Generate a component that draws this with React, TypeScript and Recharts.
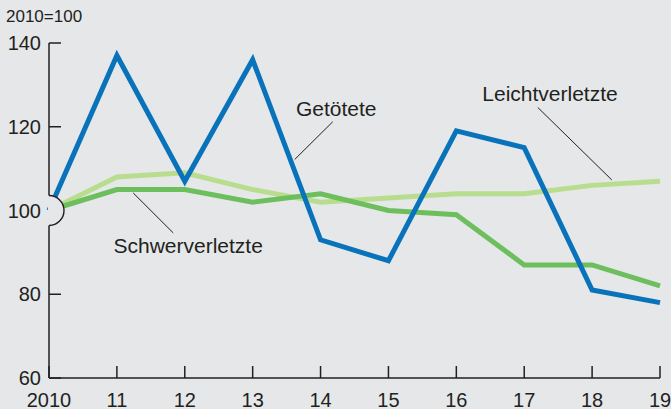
import * as React from "react";
import { LineChart, Line, XAxis, YAxis, ReferenceDot, ReferenceLine } from "recharts";

const years = [2010, 2011, 2012, 2013, 2014, 2015, 2016, 2017, 2018, 2019];
const getoetete = [100, 137, 107, 136, 93, 88, 119, 115, 81, 78];
const schwerverletzte = [100, 105, 105, 102, 104, 100, 99, 87, 87, 82];
const leichtverletzte = [100, 108, 109, 105, 102, 103, 104, 104, 106, 107];
const yTicks = [60, 80, 100, 120, 140];

// annotation anchors in data units: [x, y]
const labelGetoetete = { text: "Getötete", at: [2014.23, 122.6], from: [2014.18, 121.2], to: [2013.62, 112.2] };
const labelLeicht = { text: "Leichtverletzte", at: [2017.38, 126.2], from: [2017.2, 124.6], to: [2018.29, 107.3] };
const labelSchwer = { text: "Schwerverletzte", at: [2012.05, 89.9], from: [2011.24, 104.2], to: [2011.83, 94.65] };
const annotations = [labelGetoetete, labelLeicht, labelSchwer];

const BG = "#e5e7e9";
const INK = "#231f20";
const FONT = "'Liberation Sans', Arial, sans-serif";

const chartData = years.map((year, i) => ({
  year,
  getoetete: getoetete[i],
  schwer: schwerverletzte[i],
  leicht: leichtverletzte[i],
}));

// base marker (2010=100), sits on top of the series
const BaseMarker = (props: any) => {
  const { cx, cy } = props;
  const r = 15;
  return (
    <g>
      <path d={`M ${cx - 1} ${cy - r} L ${cx} ${cy - r} A ${r} ${r} 0 0 1 ${cx} ${cy + r} L ${cx - 1} ${cy + r} Z`} fill={BG} stroke="none" />
      <path d={`M ${cx} ${cy - r} A ${r} ${r} 0 0 1 ${cx} ${cy + r}`} fill="none" stroke={INK} strokeWidth={1.4} />
    </g>
  );
};

const makeTextShape = (text: string) => (props: any) => (
  <text x={props.cx} y={props.cy} textAnchor="middle" fontSize={21} fontFamily={FONT} fill={INK}>
    {text}
  </text>
);

export default function App() {
  return (
    <div style={{ position: "absolute", left: 0, top: 0, width: 671, height: 409, background: BG, fontFamily: FONT, overflow: "hidden" }}>
      <div style={{ position: "absolute", left: 6, top: 7, fontSize: 17, color: INK }}>2010=100</div>
      <LineChart width={671} height={409} data={chartData} margin={{ top: 43, right: 11, bottom: 0, left: 0 }}>
        <XAxis
          dataKey="year"
          type="number"
          domain={[2010, 2019]}
          ticks={years}
          tickFormatter={(v: number) => (v === 2010 ? "2010" : String(v).slice(2))}
          height={31}
          axisLine={{ stroke: INK, strokeWidth: 1.5 }}
          tickLine={{ stroke: INK, strokeWidth: 1.5 }}
          tickSize={-12}
          tickMargin={27}
          tick={{ fill: INK, fontSize: 20, fontFamily: FONT }}
          interval={0}
        />
        <YAxis
          type="number"
          domain={[60, 140]}
          ticks={yTicks}
          width={49}
          axisLine={{ stroke: INK, strokeWidth: 1.5 }}
          tickLine={{ stroke: INK, strokeWidth: 1.5 }}
          tickSize={-12}
          tickMargin={20}
          tick={{ fill: INK, fontSize: 20, fontFamily: FONT }}
          interval={0}
        />
        <Line type="linear" dataKey="leicht" stroke="#b9dd8e" strokeWidth={5} dot={false} isAnimationActive={false} />
        <Line type="linear" dataKey="schwer" stroke="#6cbf5c" strokeWidth={5} dot={false} isAnimationActive={false} />
        <Line type="linear" dataKey="getoetete" stroke="#0872ba" strokeWidth={5} dot={false} isAnimationActive={false} />
        {annotations.map((a) => (
          <ReferenceLine
            key={`l-${a.text}`}
            segment={[{ x: a.from[0], y: a.from[1] }, { x: a.to[0], y: a.to[1] }]}
            stroke={INK}
            strokeWidth={1}
          />
        ))}
        {annotations.map((a) => (
          <ReferenceDot key={`t-${a.text}`} x={a.at[0]} y={a.at[1]} r={0} shape={makeTextShape(a.text)} />
        ))}
        <ReferenceDot x={2010} y={100} r={15} shape={BaseMarker} zIndex={2000} />
      </LineChart>
    </div>
  );
}
